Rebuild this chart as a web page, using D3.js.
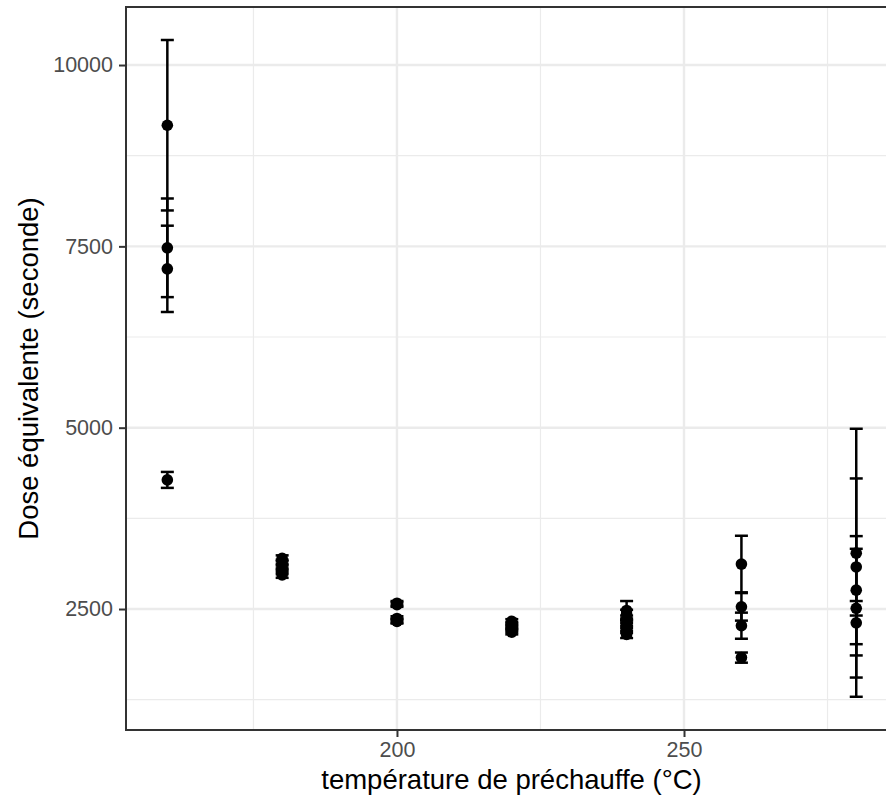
<!DOCTYPE html>
<html>
<head>
<meta charset="utf-8">
<script src="https://cdn.jsdelivr.net/npm/d3@7"></script>
<style>
  html, body { margin: 0; padding: 0; background: #fff; }
  svg { display: block; font-family: "Liberation Sans", Arial, Helvetica, sans-serif; }
</style>
</head>
<body>
<svg id="chart" width="886" height="802"></svg>
<script>
// Preheat temperature (°C) for each measurement
const temperatures = [
  160, 160, 160, 160,
  180, 180, 180, 180, 180,
  200, 200, 200, 200, 200,
  220, 220, 220, 220, 220,
  240, 240, 240, 240, 240, 240,
  260, 260, 260, 260,
  280, 280, 280, 280, 280
];
// Equivalent dose (seconds)
const doses = [
  9170, 7480, 7190, 4280,
  3200, 3140, 3080, 3020, 2970,
  2580, 2560, 2370, 2340, 2330,
  2330, 2290, 2250, 2210, 2180,
  2480, 2430, 2360, 2290, 2220, 2150,
  3120, 2530, 2270, 1830,
  3270, 3080, 2760, 2510, 2310
];
// Standard error of each dose (seconds)
const errors = [
  1175, 680, 595, 110,
  40, 40, 40, 40, 40,
  30, 30, 30, 30, 30,
  30, 30, 30, 30, 30,
  130, 60, 50, 50, 50, 50,
  390, 190, 180, 70,
  1715, 1220, 745, 100, 1020
];
const xTicks = [200, 250];
const xMinor = [175, 225, 275];
const yTicks = [2500, 5000, 7500, 10000];
const yMinor = [1250, 3750, 6250, 8750];
const xTitle = "température de préchauffe (°C)";
const yTitle = "Dose équivalente (seconde)";

const points = temperatures.map((t, i) => ({ t, dose: doses[i], err: errors[i] }));

// the panel runs past the right edge of the 886px canvas
const panel = { left: 126, right: 897, top: 7, bottom: 730 };
const svg = d3.select("#chart");

const x = d3.scaleLinear().domain([152.8, 287.1]).range([panel.left, panel.right]);
const y = d3.scaleLinear().domain([832, 10800]).range([panel.bottom, panel.top]);

// grid: minor then major
const grid = svg.append("g");
grid.selectAll(".xminor").data(xMinor).join("line")
  .attr("x1", d => x(d)).attr("x2", d => x(d))
  .attr("y1", panel.top).attr("y2", panel.bottom)
  .attr("stroke", "#EBEBEB").attr("stroke-width", 1.2);
grid.selectAll(".yminor").data(yMinor).join("line")
  .attr("y1", d => y(d)).attr("y2", d => y(d))
  .attr("x1", panel.left).attr("x2", panel.right)
  .attr("stroke", "#EBEBEB").attr("stroke-width", 1.2);
grid.selectAll(".xmajor").data(xTicks).join("line")
  .attr("x1", d => x(d)).attr("x2", d => x(d))
  .attr("y1", panel.top).attr("y2", panel.bottom)
  .attr("stroke", "#EBEBEB").attr("stroke-width", 2.4);
grid.selectAll(".ymajor").data(yTicks).join("line")
  .attr("y1", d => y(d)).attr("y2", d => y(d))
  .attr("x1", panel.left).attr("x2", panel.right)
  .attr("stroke", "#EBEBEB").attr("stroke-width", 2.4);

// error bars
const capHalf = 6.5;
const eb = svg.append("g").attr("stroke", "#000").attr("stroke-width", 2.5).attr("fill", "none");
points.forEach(p => {
  const cx = x(p.t), yHi = y(p.dose + p.err), yLo = y(p.dose - p.err);
  eb.append("line").attr("x1", cx).attr("x2", cx).attr("y1", yHi).attr("y2", yLo);
  eb.append("line").attr("x1", cx - capHalf).attr("x2", cx + capHalf).attr("y1", yHi).attr("y2", yHi);
  eb.append("line").attr("x1", cx - capHalf).attr("x2", cx + capHalf).attr("y1", yLo).attr("y2", yLo);
});

// points
svg.append("g").selectAll("circle").data(points).join("circle")
  .attr("cx", d => x(d.t)).attr("cy", d => y(d.dose)).attr("r", 5.8).attr("fill", "#000");

// panel border
svg.append("rect")
  .attr("x", panel.left).attr("y", panel.top)
  .attr("width", panel.right - panel.left).attr("height", panel.bottom - panel.top)
  .attr("fill", "none").attr("stroke", "#333333").attr("stroke-width", 2);

// axes
const xAxis = svg.append("g").attr("transform", `translate(0,${panel.bottom})`)
  .call(d3.axisBottom(x).tickValues(xTicks).tickSize(7).tickPadding(5).tickFormat(d3.format("d")));
const yAxis = svg.append("g").attr("transform", `translate(${panel.left},0)`)
  .call(d3.axisLeft(y).tickValues(yTicks).tickSize(7).tickPadding(6).tickFormat(d3.format("d")));
[xAxis, yAxis].forEach(a => {
  a.select(".domain").remove();
  a.selectAll(".tick line").attr("stroke", "#333333").attr("stroke-width", 2);
  a.selectAll(".tick text").attr("fill", "#4D4D4D").style("font-size", "21.5px")
    .style("font-family", "'Liberation Sans', Arial, sans-serif");
});
xAxis.selectAll(".tick text").attr("dy", null).attr("y", null)
  .attr("transform", "translate(0,27)");

// axis titles
svg.append("text")
  .attr("x", (panel.left + panel.right) / 2).attr("y", 789)
  .attr("text-anchor", "middle").attr("fill", "#000").style("font-size", "27.5px")
  .text(xTitle);
svg.append("text")
  .attr("transform", `translate(38,${(panel.top + panel.bottom) / 2}) rotate(-90)`)
  .attr("text-anchor", "middle").attr("fill", "#000").style("font-size", "27.5px")
  .text(yTitle);
</script>
</body>
</html>
